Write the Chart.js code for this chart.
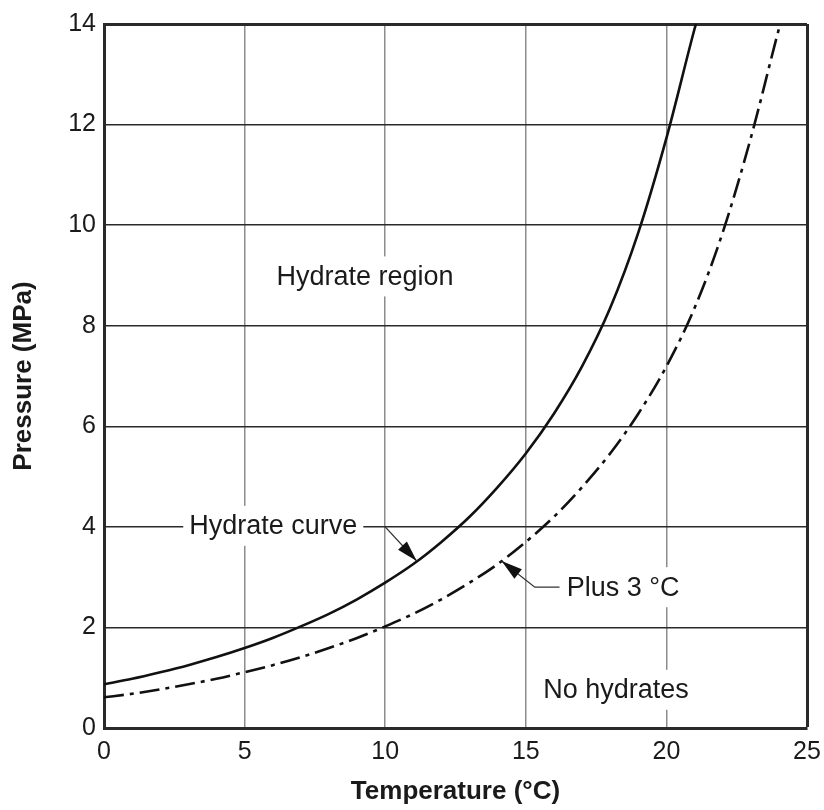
<!DOCTYPE html>
<html>
<head>
<meta charset="utf-8">
<script src="https://cdn.jsdelivr.net/npm/chart.js@4/dist/chart.umd.min.js"></script>
<style>
    html, body { margin: 0; padding: 0; background: #fff; }
    #wrap { width: 824px; height: 810px; }
</style>
</head>
<body>
<div id="wrap"><canvas id="hydrateChart"></canvas></div>
<script>
// hydrate formation curve (temperature in °C, pressure in MPa)
const hydrateTemp  = [0, 1, 2, 3, 4, 5, 6, 7, 8, 9, 10, 11, 12, 13, 14, 15, 16, 17, 18, 19, 20, 21, 21.05];
const hydratePress = [0.87, 0.98, 1.11, 1.25, 1.41, 1.59, 1.79, 2.02, 2.27, 2.56, 2.89, 3.26, 3.7, 4.2, 4.79, 5.46, 6.25, 7.19, 8.35, 9.85, 11.73, 13.9, 14];

// same curve with a 3 °C margin
const plus3Temp  = [0, 1, 2, 3, 4, 5, 6, 7, 8, 9, 10, 11, 12, 13, 14, 15, 16, 17, 18, 19, 20, 21, 22, 23, 24, 24.05];
const plus3Press = [0.61, 0.68, 0.77, 0.87, 0.98, 1.11, 1.25, 1.41, 1.59, 1.79, 2.02, 2.27, 2.56, 2.89, 3.26, 3.7, 4.2, 4.79, 5.46, 6.25, 7.19, 8.35, 9.85, 11.73, 13.9, 14];

// axis ticks
const tempTicks  = [0, 5, 10, 15, 20, 25];
const pressTicks = [0, 2, 4, 6, 8, 10, 12, 14];

const FONT = "'Liberation Sans', Arial, Helvetica, sans-serif";
const INK = '#1a1a1a';

// text labels on the plot (data coordinates)
const notes = [
    { text: 'Hydrate region', x: 9.28, y: 8.98 },
    { text: 'Hydrate curve', x: 6.02, y: 4.02 },
    { text: 'Plus 3 °C', x: 18.46, y: 2.8 },
    { text: 'No hydrates', x: 18.21, y: 0.76 }
];
// leader lines ending in an arrow head
const leaders = [
    [[10, 4], [11.12, 3.32]],
    [[16.2, 2.8], [15.32, 2.8], [14.14, 3.32]]
];

function toPoints(xs, ys) {
    return xs.map((x, i) => ({ x: x, y: ys[i] }));
}

const notesPlugin = {
    id: 'notes',
    afterDatasetsDraw(chart) {
        const ctx = chart.ctx;
        const xs = chart.scales.x, ys = chart.scales.y;
        ctx.save();
        ctx.font = '27px ' + FONT;
        ctx.textAlign = 'center';
        ctx.textBaseline = 'middle';
        notes.forEach(n => {
            const px = xs.getPixelForValue(n.x);
            const py = ys.getPixelForValue(n.y);
            const w = ctx.measureText(n.text).width + 12;
            ctx.fillStyle = '#fff';
            ctx.fillRect(px - w / 2, py - 20, w, 40);
            ctx.fillStyle = INK;
            ctx.fillText(n.text, px, py + 1);
        });

        // leader lines
        ctx.strokeStyle = '#333';
        ctx.fillStyle = '#111';
        ctx.lineWidth = 1.3;
        leaders.forEach(pts => {
            const p = pts.map(q => [xs.getPixelForValue(q[0]), ys.getPixelForValue(q[1])]);
            ctx.beginPath();
            ctx.moveTo(p[0][0], p[0][1]);
            for (let i = 1; i < p.length; i++) ctx.lineTo(p[i][0], p[i][1]);
            ctx.stroke();
            // arrow head at the last point
            const a = p[p.length - 2], b = p[p.length - 1];
            const ang = Math.atan2(b[1] - a[1], b[0] - a[0]);
            const len = 21, half = 6;
            ctx.beginPath();
            ctx.moveTo(b[0], b[1]);
            ctx.lineTo(b[0] - len * Math.cos(ang) + half * Math.sin(ang), b[1] - len * Math.sin(ang) - half * Math.cos(ang));
            ctx.lineTo(b[0] - len * Math.cos(ang) - half * Math.sin(ang), b[1] - len * Math.sin(ang) + half * Math.cos(ang));
            ctx.closePath();
            ctx.fill();
        });
        ctx.restore();
    }
};

const ctx = document.getElementById('hydrateChart').getContext('2d');
new Chart(ctx, {
    type: 'scatter',
    data: {
        datasets: [
            {
                label: 'Hydrate curve',
                data: toPoints(hydrateTemp, hydratePress),
                showLine: true,
                borderColor: '#111',
                borderWidth: 2.6,
                pointRadius: 0,
                cubicInterpolationMode: 'monotone',
                fill: false
            },
            {
                label: 'Plus 3 °C',
                data: toPoints(plus3Temp, plus3Press),
                showLine: true,
                borderColor: '#111',
                borderWidth: 2.6,
                borderDash: [20, 6, 4, 6],
                pointRadius: 0,
                cubicInterpolationMode: 'monotone',
                fill: false
            }
        ]
    },
    options: {
        responsive: true,
        maintainAspectRatio: false,
        animation: false,
        layout: { padding: { top: 24, right: 17, bottom: 0, left: 0 } },
        plugins: {
            legend: { display: false },
            tooltip: { enabled: false }
        },
        scales: {
            x: {
                type: 'linear',
                min: 0,
                max: 25,
                afterFit(scale) {
                    scale.height = 82;
                    scale.paddingLeft = 0;
                    scale.paddingRight = 0;
                },
                afterBuildTicks(scale) { scale.ticks = tempTicks.map(v => ({ value: v })); },
                ticks: {
                    color: INK,
                    padding: 9,
                    font: { family: FONT, size: 25 }
                },
                grid: {
                    drawTicks: false,
                    color: c => c.tick && c.tick.value === 25 ? '#2a2a2a' : '#8c8c8c',
                    lineWidth: c => c.tick && c.tick.value === 25 ? 3 : 1.5
                },
                border: { display: true, color: '#2a2a2a', width: 3 },
                title: {
                    display: true,
                    text: 'Temperature (°C)',
                    color: INK,
                    font: { family: FONT, size: 26, weight: 'bold', lineHeight: 1 },
                    padding: { top: 0, bottom: 5 }
                }
            },
            y: {
                type: 'linear',
                min: 0,
                max: 14,
                afterFit(scale) { scale.width = 104; },
                afterBuildTicks(scale) { scale.ticks = pressTicks.map(v => ({ value: v })); },
                ticks: {
                    color: INK,
                    padding: 8,
                    font: { family: FONT, size: 25 }
                },
                grid: {
                    drawTicks: false,
                    color: '#2a2a2a',
                    lineWidth: c => c.tick && c.tick.value === 14 ? 3 : 1.5
                },
                border: { display: true, color: '#2a2a2a', width: 3 },
                title: {
                    display: true,
                    text: 'Pressure (MPa)',
                    color: INK,
                    font: { family: FONT, size: 26, weight: 'bold', lineHeight: 1 },
                    padding: { top: 11, bottom: 0 }
                }
            }
        }
    },
    plugins: [notesPlugin]
});
</script>
</body>
</html>
